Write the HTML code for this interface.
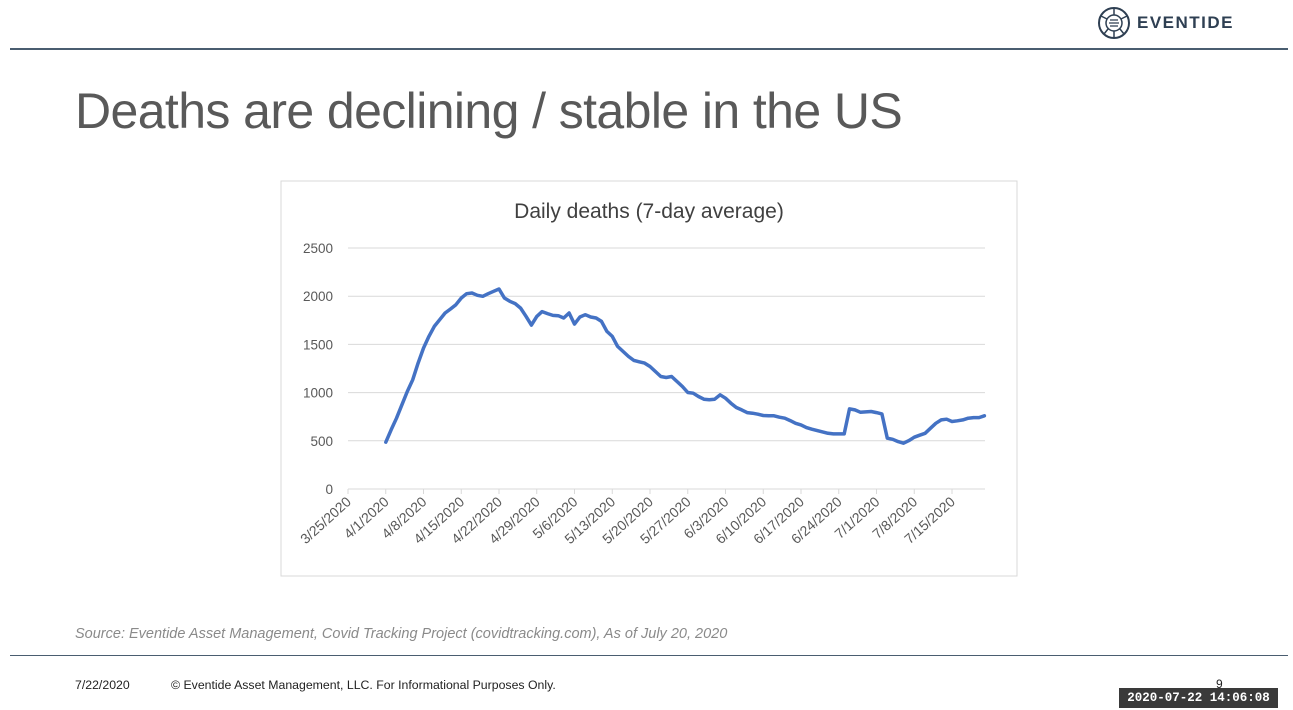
<!DOCTYPE html>
<html><head><meta charset="utf-8"><style>
body{margin:0;width:1293px;height:710px;background:#fff;position:relative;overflow:hidden;font-family:"Liberation Sans",sans-serif}
.abs{position:absolute}
</style></head><body>
<div class="abs" style="left:10px;top:48px;width:1278px;height:2px;background:#4a5d70"></div>
<div class="abs" style="left:1097px;top:6px;width:140px;height:34px">
<svg width="36" height="36" style="position:absolute;left:0;top:0"><circle cx="17" cy="17" r="15" fill="none" stroke="#2e3f52" stroke-width="2"/><circle cx="17" cy="17" r="8" fill="none" stroke="#2e3f52" stroke-width="1.5"/><path d="M13 14h8M12 17h10M13 20h8" stroke="#2e3f52" stroke-width="1.3"/><path d="M17 2v7M17 25v7M4 10l6 3M30 10l-6 3M7 28l4-5M27 28l-4-5" stroke="#2e3f52" stroke-width="1.5"/></svg>
<span style="position:absolute;left:40px;top:7px;font-size:17px;font-weight:bold;letter-spacing:1.5px;color:#2e3f52">EVENTIDE</span></div>
<div class="abs" style="left:75px;top:82px;font-size:50px;letter-spacing:-0.6px;color:#595959;white-space:nowrap">Deaths are declining / stable in the US</div>
<svg class="abs" style="left:0;top:0" width="1293" height="710" id="chart">
<rect x="281" y="181" width="736" height="395" fill="#fff" stroke="#d9d9d9"/>
<text x="649" y="218" text-anchor="middle" font-size="21" fill="#404040" font-family="Liberation Sans, sans-serif">Daily deaths (7-day average)</text>
</svg>
<div class="abs" style="left:75px;top:626px;font-size:14.5px;font-style:italic;color:#8a8a8a;white-space:nowrap">Source: Eventide Asset Management, Covid Tracking Project (covidtracking.com), As of July 20, 2020</div>
<div class="abs" style="left:10px;top:655px;width:1278px;height:1px;background:#4a5d70"></div>
<div class="abs" style="left:75px;top:678px;font-size:12.3px;color:#222">7/22/2020</div>
<div class="abs" style="left:171px;top:678px;font-size:12.3px;color:#222;white-space:nowrap">© Eventide Asset Management, LLC. For Informational Purposes Only.</div>
<div class="abs" style="left:1216px;top:677px;font-size:12px;color:#222">9</div>
<div class="abs" style="left:1119px;top:688px;width:159px;height:20px;background:#3a3a3a;color:#fff;font-weight:bold;font-size:12.5px;line-height:20px;text-align:center;font-family:'Liberation Mono',monospace">2020-07-22 14:06:08</div>
<script>
const tickLabels=["3/25/2020","4/1/2020","4/8/2020","4/15/2020","4/22/2020","4/29/2020","5/6/2020","5/13/2020","5/20/2020","5/27/2020","6/3/2020","6/10/2020","6/17/2020","6/24/2020","7/1/2020","7/8/2020","7/15/2020"];
const yTicks=[0,500,1000,1500,2000,2500];
const startDay=7;
const deaths=[485,613,734,873,1011,1133,1306,1462,1583,1687,1756,1826,1867,1912,1981,2026,2033,2009,1999,2026,2051,2075,1981,1947,1923,1877,1791,1700,1790,1840,1819,1801,1798,1774,1826,1711,1784,1808,1784,1774,1739,1635,1583,1479,1427,1375,1334,1320,1306,1271,1219,1167,1157,1167,1115,1063,1001,994,960,932,925,932,977,942,890,845,821,793,786,776,762,759,759,745,734,710,682,665,637,620,606,592,578,572,572,572,831,821,797,800,804,793,779,527,516,492,475,502,537,558,578,630,682,717,724,700,707,717,734,741,741,759];
const NS="http://www.w3.org/2000/svg";
const svg=document.getElementById('chart');
const X=d=>348+5.393*d, Y=v=>489-v*0.0964;
function mk(t,a){const e=document.createElementNS(NS,t);for(const k in a)e.setAttribute(k,a[k]);svg.appendChild(e);return e;}
yTicks.forEach(v=>{
  if(v>0){const g=mk('line',{x1:348,x2:985,y1:Y(v),y2:Y(v),stroke:'#d9d9d9','stroke-width':1});
  
  }
  const t=mk('text',{x:333,y:Y(v)+5,'text-anchor':'end','font-size':13.5,fill:'#595959','font-family':'Liberation Sans, sans-serif'});
  t.textContent=v;
  
  
});
const ax=mk('line',{x1:348,x2:985,y1:489,y2:489,stroke:'#d9d9d9'});


tickLabels.forEach((l,i)=>{
  const x=X(i*7);
  const tk=mk('line',{x1:x,x2:x,y1:489,y2:494,stroke:'#d9d9d9'});
  
  
  const t=mk('text',{x:x+4,y:503,'text-anchor':'end','font-size':14,fill:'#595959','font-family':'Liberation Sans, sans-serif',transform:`rotate(-42 ${x+4} 503)`});
  t.textContent=l;
  
  
});
const pts=deaths.map((v,i)=>X(startDay+i).toFixed(1)+','+Y(v).toFixed(1)).join(' ');
const pl=mk('polyline',{points:pts,fill:'none',stroke:'#4472c4','stroke-width':3.5,'stroke-linejoin':'round','stroke-linecap':'round'});


</script>
</body></html>
